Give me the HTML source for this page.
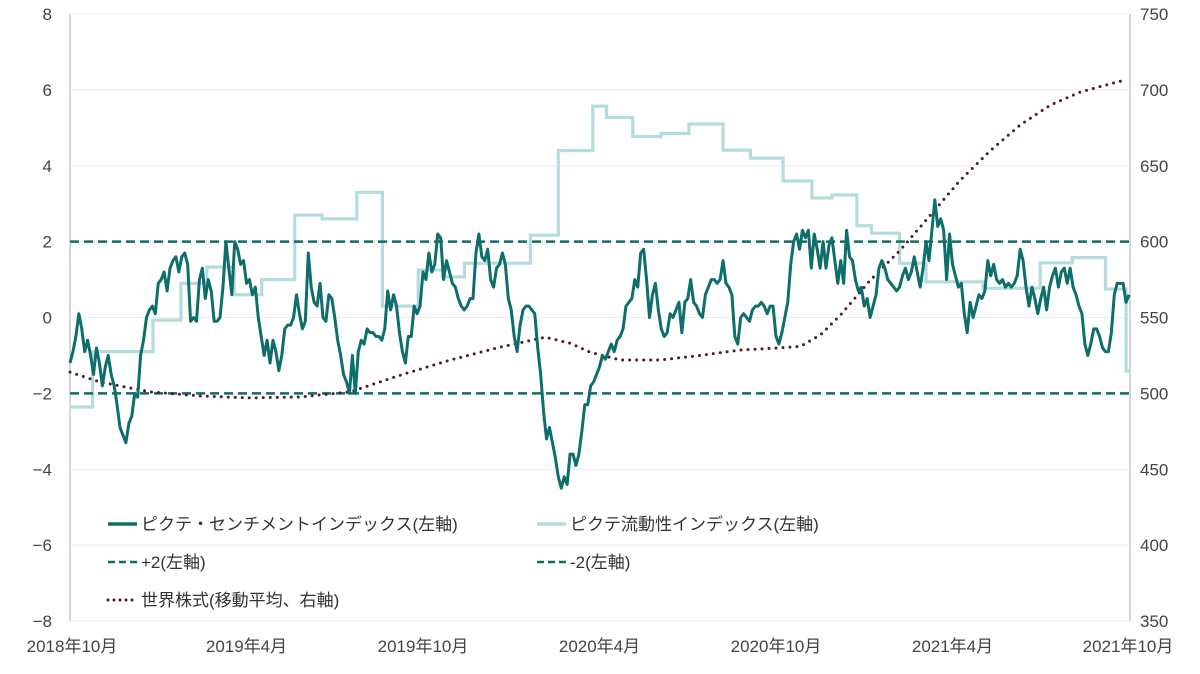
<!DOCTYPE html>
<html><head><meta charset="utf-8">
<style>
html,body{margin:0;padding:0;background:#fff;}
svg{display:block;font-family:"Liberation Sans","Noto Sans CJK JP",sans-serif;}
</style></head>
<body>
<svg id="chart" width="1200" height="674" viewBox="0 0 1200 674">
<g id="grid"></g><g id="axes"></g><g id="series"></g><g id="legend"></g>
</svg>
<script>
const xTickLabels = ["2018年10月","2019年4月","2019年10月","2020年4月","2020年10月","2021年4月","2021年10月"];
const xTickMonths = [0,6,12,18,24,30,36];
const leftTicks = [8,6,4,2,0,-2,-4,-6,-8];
const rightTicks = [750,700,650,600,550,500,450,400,350];
const sentiment = [-1.2,-0.9,-0.5,0.1,-0.3,-0.9,-0.6,-1.0,-1.5,-0.8,-1.2,-1.8,-1.3,-1.0,-1.5,-1.8,-2.3,-2.9,-3.1,-3.3,-2.8,-2.6,-2.0,-2.1,-1.0,-0.6,0.0,0.2,0.3,0.1,0.9,1.0,1.2,0.7,1.3,1.5,1.6,1.2,1.6,1.7,1.4,-0.1,0.0,-0.1,1.0,1.3,0.5,1.0,0.7,-0.1,-0.1,0.0,0.8,2.0,1.3,0.6,2.0,1.8,1.4,1.5,0.9,1.0,0.6,0.8,0.0,-0.5,-1.0,-0.6,-1.2,-0.6,-0.9,-1.4,-1.0,-0.3,-0.2,-0.2,0.0,0.6,0.1,-0.3,-0.1,1.7,0.8,0.4,0.3,0.9,0.0,-0.1,0.6,0.5,0.0,-0.6,-1.0,-1.5,-1.7,-2.0,-1.0,-2.0,-0.9,-0.6,-0.7,-0.3,-0.4,-0.4,-0.5,-0.5,-0.6,-0.3,0.7,0.2,0.6,0.3,-0.4,-0.9,-1.2,-0.5,-0.5,0.3,0.1,0.3,1.2,1.0,1.7,1.2,1.4,2.2,2.1,1.0,1.5,1.2,0.9,0.8,0.5,0.3,0.2,0.3,0.5,0.5,1.7,2.2,1.6,1.5,1.8,1.0,0.8,1.3,1.4,1.7,1.4,0.5,0.2,-0.5,-0.9,-0.2,0.2,0.3,0.3,0.2,0.1,-0.8,-1.5,-2.5,-3.2,-2.9,-3.3,-3.7,-4.2,-4.5,-4.2,-4.4,-3.6,-3.6,-3.9,-3.6,-3.0,-2.3,-2.3,-1.8,-1.7,-1.5,-1.3,-1.0,-1.1,-0.9,-0.7,-0.9,-0.6,-0.5,-0.3,0.3,0.4,0.5,1.0,0.8,1.7,1.8,1.0,0.0,0.6,0.9,0.2,-0.3,-0.5,-0.4,0.1,0.0,0.2,0.4,-0.4,0.4,0.5,1.0,0.4,0.3,0.1,0.0,0.6,0.8,1.0,1.0,0.9,1.0,1.5,0.9,0.8,0.6,-0.5,-0.7,0.0,0.1,0.0,-0.1,0.2,0.3,0.3,0.4,0.3,0.1,0.3,0.3,-0.5,-0.7,-0.4,0.0,0.4,1.4,2.0,2.2,1.8,2.3,2.1,2.3,1.3,2.2,1.8,1.3,2.0,1.3,1.9,2.1,1.5,0.9,1.5,0.9,2.3,1.6,1.5,1.0,0.7,0.8,0.3,0.5,0.0,0.3,0.6,1.3,1.5,1.3,1.0,0.9,0.8,0.7,0.8,1.1,1.3,1.0,1.2,1.6,1.2,0.8,1.3,2.0,1.5,2.3,3.1,2.4,2.6,2.3,1.0,2.2,1.4,1.1,0.8,0.9,0.1,-0.4,0.4,0.0,0.3,0.6,0.5,0.7,1.5,1.1,1.4,1.0,0.9,1.0,0.8,0.9,0.8,0.9,1.1,1.8,1.5,0.8,0.3,0.8,0.5,0.1,0.5,0.8,0.2,0.8,1.1,1.3,0.8,1.2,1.3,0.9,1.3,0.8,0.6,0.3,0.1,-0.7,-1.0,-0.7,-0.3,-0.3,-0.5,-0.8,-0.9,-0.9,-0.4,0.6,0.9,0.9,0.9,0.4,0.6];
const liqMonths = [0,0.77,2.82,3.77,4.65,5.58,6.52,7.64,8.57,9.75,10.62,11.84,12.66,13.41,15.65,16.6,17.77,18.24,19.13,20.09,21.04,21.34,22.2,23.13,24.24,25.22,25.9,26.75,27.25,28.2,29.1,31.04,32.98,34.07,35.2,35.9];
const liqValues = [-2.36,-0.9,-0.07,0.9,1.33,0.6,1.0,2.7,2.6,3.3,0.3,1.25,1.07,1.43,2.17,4.4,5.57,5.27,4.77,4.85,5.1,5.1,4.41,4.2,3.6,3.15,3.23,2.42,2.22,1.43,0.94,0.77,1.44,1.58,0.75,-1.41];
const stockMonths = [0,1.02,2.72,4.42,6.12,7.82,9.53,11.23,12.93,14.63,16.16,17.01,17.69,18.71,20.07,21.43,22.79,24.15,24.83,25.51,26.19,27.21,28.23,29.25,30.27,31.29,32.31,33.33,34.35,35.37,35.88];
const stockValues = [514,507.5,501,498.3,497,497.6,501,512,522,530.5,537,533,527,522,522,525,528.6,530,531,538.5,551.6,574.7,594.5,617.5,640.6,660,677,690,698.6,704,706.5];

const NS="http://www.w3.org/2000/svg";
const X0=70,X1=1129,YT=14,YB=621;
const xs=m=>X0+(m/36)*(X1-X0);
const yl=v=>YT+(8-v)/16*(YB-YT);
const yr=v=>YT+(750-v)/400*(YB-YT);
function mk(tag,attrs,parent){const e=document.createElementNS(NS,tag);for(const k in attrs)e.setAttribute(k,attrs[k]);parent.appendChild(e);return e;}
const grid=document.getElementById('grid'),axes=document.getElementById('axes'),series=document.getElementById('series'),legend=document.getElementById('legend');

leftTicks.forEach((t,i)=>{
  const g=mk('line',{x1:X0,x2:X1,y1:yl(t),y2:yl(t),stroke:'#ececec','stroke-width':1},grid);
  
  
  const tx=mk('text',{x:52,y:yl(t)+6,'text-anchor':'end','font-size':17,fill:'#444'},axes);
  tx.textContent=String(t).replace('-','−');
  
  
});
rightTicks.forEach(t=>{
  const tx=mk('text',{x:1140,y:yr(t)+6,'font-size':17,fill:'#444'},axes);
  tx.textContent=t;
  
  
});
xTickLabels.forEach((l,i)=>{
  let x=xs(xTickMonths[i]);
  if(i===0)x=72; if(i===xTickLabels.length-1)x=1128;
  const tx=mk('text',{x:x,y:652,'text-anchor':'middle','font-size':17,fill:'#444'},axes);
  tx.textContent=l;
  
  
});
const la=mk('line',{x1:X0,x2:X0,y1:YT,y2:YB,stroke:'#c8c8c8','stroke-width':1.5},axes);


const ra=mk('line',{x1:1130,x2:1130,y1:YT,y2:YB,stroke:'#c8c8c8','stroke-width':1.5},axes);



// liquidity step
let d='';
liqMonths.forEach((m,i)=>{
  const x=xs(m),y=yl(liqValues[i]);
  if(i===0)d+=`M${x},${y}`;else d+=`L${x},${yl(liqValues[i-1])}L${x},${y}`;
});
d+=`L${X1},${yl(liqValues[liqValues.length-1])}`;
const lq=mk('path',{d:d,fill:'none',stroke:'#b5dcdc','stroke-width':3.2},series);



// +2 / -2
[2,-2].forEach(v=>{
  const l=mk('line',{x1:X0,x2:X1,y1:yl(v),y2:yl(v),stroke:'#0e6b67','stroke-width':2.6,'stroke-dasharray':'9 5'},series);
  
  
});

// stock dotted
const sp=stockMonths.map((m,i)=>`${i?'L':'M'}${xs(m)},${yr(stockValues[i])}`).join('');
const st=mk('path',{d:sp,fill:'none',stroke:'#4d1a2e','stroke-width':3,'stroke-dasharray':'0 7','stroke-linecap':'round'},series);



// sentiment
const n=sentiment.length;
const sd=sentiment.map((v,i)=>`${i?'L':'M'}${xs(i*36/(n-1))},${yl(v)}`).join('');
const se=mk('path',{d:sd,fill:'none',stroke:'#0d6e6a','stroke-width':3,'stroke-linejoin':'round'},series);



// legend
const items=[
 {x:108,y:524,label:'ピクテ・センチメントインデックス(左軸)',stroke:'#0d6e6a',dash:null,w:3.5,name:'legend-sentiment'},
 {x:537,y:524,label:'ピクテ流動性インデックス(左軸)',stroke:'#b5dcdc',dash:null,w:3.5,name:'legend-liquidity'},
 {x:108,y:562,label:'+2(左軸)',stroke:'#0e6b67',dash:'7 4',w:2.6,name:'legend-plus-2'},
 {x:537,y:562,label:'-2(左軸)',stroke:'#0e6b67',dash:'7 4',w:2.6,name:'legend-minus-2'},
 {x:108,y:600,label:'世界株式(移動平均、右軸)',stroke:'#4d1a2e',dash:'0 6',w:3,name:'legend-world-stock'}
];
items.forEach(it=>{
  const g=mk('g',{},legend);
  
  
  const a={x1:it.x,x2:it.x+29,y1:it.y,y2:it.y,stroke:it.stroke,'stroke-width':it.w};
  if(it.dash){a['stroke-dasharray']=it.dash;a['stroke-linecap']=it.dash.startsWith('0')?'round':'butt';}
  mk('line',a,g);
  const t=mk('text',{x:it.x+33,y:it.y+6,'font-size':17,fill:'#333'},g);
  t.textContent=it.label;
});
</script>
</body></html>
